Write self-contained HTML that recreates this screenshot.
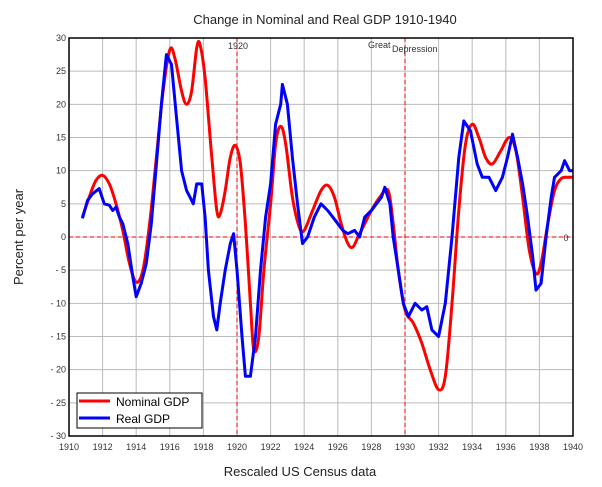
<!DOCTYPE html>
<html><head><meta charset="utf-8"><style>
html,body{margin:0;padding:0;background:#fff;}
svg{display:block;font-family:"Liberation Sans",sans-serif;}
</style></head><body>
<svg id="chart" width="602" height="487">
<text x="325" y="24" font-size="13" text-anchor="middle" fill="#222">Change in Nominal and Real GDP 1910-1940</text>
<text x="300" y="476" font-size="13" text-anchor="middle" fill="#222">Rescaled US Census data</text>
<text transform="translate(23,237) rotate(-90)" font-size="13" text-anchor="middle" fill="#222">Percent per year</text>
<g id="grid"></g>
<g id="ticks"></g>
<g id="series"></g>
<rect x="69" y="38" width="504" height="398" fill="none" stroke="#000" stroke-width="1.5"/>
<text x="238" y="49" font-size="9" text-anchor="middle" fill="#333">1920</text>
<text x="368" y="48" font-size="9" fill="#333">Great</text>
<text x="392" y="52" font-size="9" fill="#333">Depression</text>
<text x="566" y="241" font-size="9" text-anchor="middle" fill="#333">0</text>
<g>
<rect x="77" y="393" width="125" height="35" fill="#fff" stroke="#000"/>
<line x1="79" y1="401" x2="110" y2="401" stroke="#f00" stroke-width="3"/>
<text x="116" y="406" font-size="12" fill="#000">Nominal GDP</text>
<line x1="79" y1="418" x2="110" y2="418" stroke="#00f" stroke-width="3"/>
<text x="116" y="423" font-size="12" fill="#000">Real GDP</text>
</g>
</svg>
<script>
const nomYears=[1910.8,1911.2,1911.6,1912,1912.4,1912.8,1913.2,1913.6,1914,1914.4,1914.8,1915.2,1915.6,1916,1916.3,1916.7,1917,1917.3,1917.6,1917.8,1918.1,1918.5,1918.8,1919,1919.3,1919.6,1919.9,1920.2,1920.5,1920.8,1921,1921.3,1921.6,1922,1922.3,1922.6,1922.9,1923.3,1923.7,1924,1924.5,1925,1925.4,1925.8,1926.2,1926.6,1926.9,1927.2,1927.6,1928,1928.5,1929,1929.3,1929.6,1930,1930.5,1931,1931.5,1932,1932.4,1932.8,1933.2,1933.6,1934,1934.4,1934.8,1935.2,1935.7,1936.2,1936.6,1937,1937.4,1937.8,1938.1,1938.5,1938.9,1939.3,1939.7,1940];
const nomValues=[3,6,8.5,9.3,8,5,1,-4,-6.8,-5,2,12,22,28.2,27,22,20,22,28.5,29,24,12,4,3.5,7,12,13.8,11,2,-10,-17,-15,-5,5,14,16.7,14,6,1.5,1,4,7,7.8,6,2,-1,-1.5,0,2,4,6,7,2,-5,-11,-13,-16,-20,-23,-21,-10,4,14,17,15,12,11,13,15,13,6,-2,-5.5,-4,2,7,8.8,9,9];
const realYears=[1910.8,1911.1,1911.4,1911.8,1912.1,1912.4,1912.6,1912.8,1913,1913.2,1913.5,1913.8,1914,1914.3,1914.6,1914.9,1915.2,1915.5,1915.8,1916.1,1916.4,1916.7,1917,1917.2,1917.4,1917.6,1917.9,1918.1,1918.3,1918.6,1918.8,1919,1919.3,1919.6,1919.8,1920,1920.3,1920.5,1920.8,1921.1,1921.4,1921.7,1922,1922.3,1922.6,1922.7,1923,1923.3,1923.6,1923.9,1924.2,1924.6,1925,1925.4,1925.7,1926,1926.3,1926.6,1927,1927.3,1927.6,1928,1928.3,1928.6,1928.8,1929.1,1929.3,1929.6,1929.9,1930.2,1930.6,1931,1931.3,1931.6,1932,1932.4,1932.8,1933.2,1933.5,1933.9,1934.3,1934.6,1935,1935.4,1935.8,1936.1,1936.4,1936.7,1937,1937.3,1937.6,1937.8,1938.1,1938.4,1938.7,1938.9,1939.3,1939.5,1939.8,1940];
const realValues=[2.8,5.5,6.5,7.3,5,4.8,4,4.5,3,2,-1,-6,-9,-7,-4,2,11,20,27.5,26,18,10,7,6,5,8,8,3,-5,-12,-14,-10,-5,-1,0.5,-5,-15,-21,-21,-15,-5,3,8,17,20,23,20,12,5,-1,0,3,5,4,3,2,1,0.5,1,0,3,4,5,6,7.5,5,0,-5,-10,-12,-10,-11,-10.5,-14,-15,-10,0,12,17.5,16,11,9,9,7,9,12,15.5,12,8,3,-3,-8,-7,0,6,9,10,11.5,10,10];
const xTicks=[1910,1912,1914,1916,1918,1920,1922,1924,1926,1928,1930,1932,1934,1936,1938,1940];
const yTicks=[30,25,20,15,10,5,0,-5,-10,-15,-20,-25,-30];
const X0=69,X1=573,Y0=38,Y1=436;
function sx(v){return X0+(v-1910)/30*(X1-X0);}
function sy(v){return Y0+(30-v)/60*(Y1-Y0);}
const NS="http://www.w3.org/2000/svg";
function mk(tag,attrs,parent){const e=document.createElementNS(NS,tag);for(const k in attrs)e.setAttribute(k,attrs[k]);parent.appendChild(e);return e;}
const grid=document.getElementById('grid'),ticks=document.getElementById('ticks'),series=document.getElementById('series');
xTicks.forEach(t=>{
 const l=mk('line',{x1:sx(t),x2:sx(t),y1:Y0,y2:Y1,stroke:'#bbb','stroke-width':1},grid);
 
 
 const tx=mk('text',{x:sx(t),y:Y1+14,'font-size':9,'text-anchor':'middle',fill:'#333'},ticks);
 tx.textContent=t;
 
 
});
yTicks.forEach(t=>{
 const l=mk('line',{x1:X0,x2:X1,y1:sy(t),y2:sy(t),stroke:'#bbb','stroke-width':1},grid);
 
 
 const tx=mk('text',{x:X0-3,y:sy(t)+3,'font-size':9,'text-anchor':'end',fill:'#333'},ticks);
 tx.textContent=(t<0?'- '+(-t):t);
 
 
});
const z=mk('line',{x1:X0,x2:X1,y1:sy(0),y2:sy(0),stroke:'#e00','stroke-width':1,'stroke-dasharray':'4,3'},grid);


[1920,1930].forEach(y=>{
 const v=mk('line',{x1:sx(y),x2:sx(y),y1:Y0,y2:Y1,stroke:'#e00','stroke-width':1,'stroke-dasharray':'4,3'},grid);
 
 
});
function path(xs,ys){return xs.map((x,i)=>(i?'L':'M')+sx(x).toFixed(1)+','+sy(ys[i]).toFixed(1)).join('');}
function smooth(xs,ys){
 const p=xs.map((x,i)=>[sx(x),sy(ys[i])]);
 let d='M'+p[0][0].toFixed(1)+','+p[0][1].toFixed(1);
 for(let i=0;i<p.length-1;i++){
  const a=p[Math.max(0,i-1)],b=p[i],c=p[i+1],e=p[Math.min(p.length-1,i+2)];
  const c1=[b[0]+(c[0]-a[0])/6,b[1]+(c[1]-a[1])/6],c2=[c[0]-(e[0]-b[0])/6,c[1]-(e[1]-b[1])/6];
  d+='C'+c1.map(v=>v.toFixed(1)).join(',')+' '+c2.map(v=>v.toFixed(1)).join(',')+' '+c[0].toFixed(1)+','+c[1].toFixed(1);
 }
 return d;
}
const pn=mk('path',{d:smooth(nomYears,nomValues),fill:'none',stroke:'#f00','stroke-width':3,'stroke-linejoin':'round'},series);


const pr=mk('path',{d:path(realYears,realValues),fill:'none',stroke:'#00f','stroke-width':3,'stroke-linejoin':'round'},series);


</script>
</body></html>
